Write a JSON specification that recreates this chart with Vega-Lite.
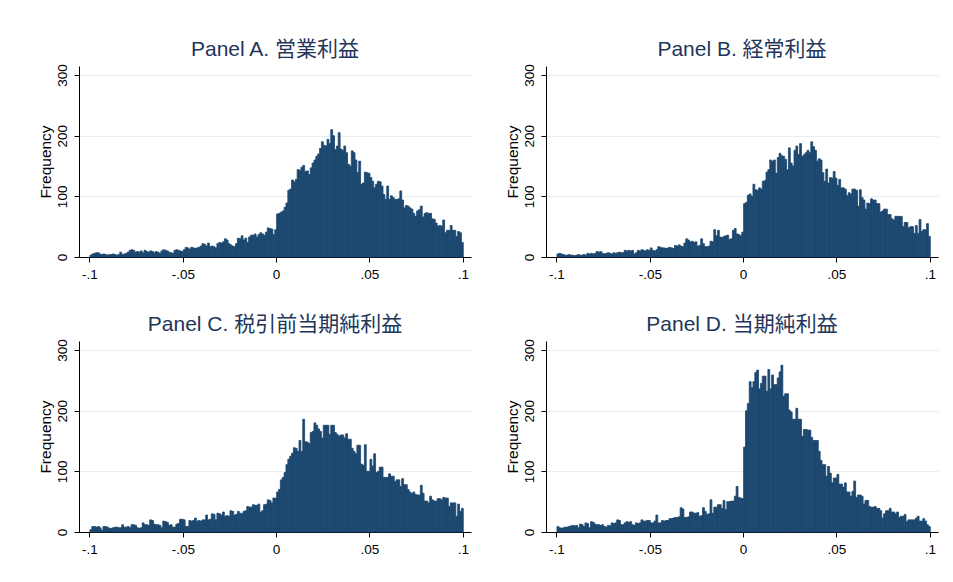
{
"$schema": "https://vega.github.io/schema/vega-lite/v6.json",
"background": "white",
"padding": {"left": 38, "top": 38, "right": 5, "bottom": 5},
"config": {
"view": {"stroke": null},
"font": "Liberation Sans",
"title": {"font": "Liberation Sans, Noto Sans CJK JP", "fontSize": 21, "fontWeight": "normal", "color": "#22355a", "anchor": "middle", "frame": "group", "offset": 4},
"axis": {"labelFont": "Liberation Sans", "titleFont": "Liberation Sans", "labelColor": "#000", "titleColor": "#000", "domainColor": "#000", "tickColor": "#000", "tickSize": 5, "labelFontSize": 13.5, "titleFontSize": 15.5, "titleFontWeight": "normal"},
"bar": {"binSpacing": 0}
},
"datasets": {
"A": [
{"x":-0.1,"n":3},{"x":-0.099,"n":5},{"x":-0.098,"n":6},{"x":-0.097,"n":7},{"x":-0.096,"n":7},{"x":-0.095,"n":5},{"x":-0.094,"n":4},{"x":-0.093,"n":5},{"x":-0.092,"n":4},{"x":-0.091,"n":3},
{"x":-0.09,"n":4},{"x":-0.089,"n":4},{"x":-0.088,"n":5},{"x":-0.087,"n":4},{"x":-0.086,"n":3},{"x":-0.085,"n":4},{"x":-0.084,"n":8},{"x":-0.083,"n":4},{"x":-0.082,"n":5},{"x":-0.081,"n":6},
{"x":-0.08,"n":8},{"x":-0.079,"n":11},{"x":-0.078,"n":12},{"x":-0.077,"n":11},{"x":-0.076,"n":8},{"x":-0.075,"n":9},{"x":-0.074,"n":8},{"x":-0.073,"n":10},{"x":-0.072,"n":7},{"x":-0.071,"n":11},
{"x":-0.07,"n":9},{"x":-0.069,"n":8},{"x":-0.068,"n":10},{"x":-0.067,"n":9},{"x":-0.066,"n":7},{"x":-0.065,"n":9},{"x":-0.064,"n":8},{"x":-0.063,"n":6},{"x":-0.062,"n":10},{"x":-0.061,"n":12},
{"x":-0.06,"n":11},{"x":-0.059,"n":10},{"x":-0.058,"n":8},{"x":-0.057,"n":7},{"x":-0.056,"n":6},{"x":-0.055,"n":11},{"x":-0.054,"n":12},{"x":-0.053,"n":11},{"x":-0.052,"n":10},{"x":-0.051,"n":9},
{"x":-0.05,"n":12},{"x":-0.049,"n":16},{"x":-0.048,"n":15},{"x":-0.047,"n":13},{"x":-0.046,"n":16},{"x":-0.045,"n":15},{"x":-0.044,"n":14},{"x":-0.043,"n":15},{"x":-0.042,"n":16},{"x":-0.041,"n":18},
{"x":-0.04,"n":22},{"x":-0.039,"n":21},{"x":-0.038,"n":18},{"x":-0.037,"n":23},{"x":-0.036,"n":17},{"x":-0.035,"n":18},{"x":-0.034,"n":17},{"x":-0.033,"n":15},{"x":-0.032,"n":22},{"x":-0.031,"n":24},
{"x":-0.03,"n":23},{"x":-0.029,"n":25},{"x":-0.028,"n":30},{"x":-0.027,"n":28},{"x":-0.026,"n":22},{"x":-0.025,"n":20},{"x":-0.024,"n":18},{"x":-0.023,"n":17},{"x":-0.022,"n":22},{"x":-0.021,"n":31},
{"x":-0.02,"n":30},{"x":-0.019,"n":35},{"x":-0.018,"n":28},{"x":-0.017,"n":31},{"x":-0.016,"n":24},{"x":-0.015,"n":33},{"x":-0.014,"n":36},{"x":-0.013,"n":36},{"x":-0.012,"n":38},{"x":-0.011,"n":33},
{"x":-0.01,"n":37},{"x":-0.009,"n":40},{"x":-0.008,"n":38},{"x":-0.007,"n":36},{"x":-0.006,"n":41},{"x":-0.005,"n":48},{"x":-0.004,"n":47},{"x":-0.003,"n":46},{"x":-0.002,"n":37},{"x":-0.001,"n":45},
{"x":0,"n":71},{"x":0.001,"n":72},{"x":0.002,"n":74},{"x":0.003,"n":76},{"x":0.004,"n":82},{"x":0.005,"n":89},{"x":0.006,"n":110},{"x":0.007,"n":112},{"x":0.008,"n":127},{"x":0.009,"n":124},
{"x":0.01,"n":128},{"x":0.011,"n":144},{"x":0.012,"n":143},{"x":0.013,"n":148},{"x":0.014,"n":151},{"x":0.015,"n":141},{"x":0.016,"n":142},{"x":0.017,"n":136},{"x":0.018,"n":147},{"x":0.019,"n":155},
{"x":0.02,"n":160},{"x":0.021,"n":166},{"x":0.022,"n":170},{"x":0.023,"n":179},{"x":0.024,"n":190},{"x":0.025,"n":184},{"x":0.026,"n":183},{"x":0.027,"n":194},{"x":0.028,"n":187},{"x":0.029,"n":210},
{"x":0.03,"n":200},{"x":0.031,"n":177},{"x":0.032,"n":183},{"x":0.033,"n":205},{"x":0.034,"n":178},{"x":0.035,"n":176},{"x":0.036,"n":183},{"x":0.037,"n":172},{"x":0.038,"n":153},{"x":0.039,"n":150},
{"x":0.04,"n":175},{"x":0.041,"n":172},{"x":0.042,"n":160},{"x":0.043,"n":139},{"x":0.044,"n":158},{"x":0.045,"n":120},{"x":0.046,"n":122},{"x":0.047,"n":140},{"x":0.048,"n":139},{"x":0.049,"n":138},
{"x":0.05,"n":131},{"x":0.051,"n":125},{"x":0.052,"n":114},{"x":0.053,"n":120},{"x":0.054,"n":125},{"x":0.055,"n":124},{"x":0.056,"n":117},{"x":0.057,"n":103},{"x":0.058,"n":95},{"x":0.059,"n":117},
{"x":0.06,"n":95},{"x":0.061,"n":101},{"x":0.062,"n":98},{"x":0.063,"n":95},{"x":0.064,"n":95},{"x":0.065,"n":96},{"x":0.066,"n":109},{"x":0.067,"n":94},{"x":0.068,"n":81},{"x":0.069,"n":85},
{"x":0.07,"n":84},{"x":0.071,"n":81},{"x":0.072,"n":79},{"x":0.073,"n":72},{"x":0.074,"n":67},{"x":0.075,"n":76},{"x":0.076,"n":78},{"x":0.077,"n":84},{"x":0.078,"n":66},{"x":0.079,"n":72},
{"x":0.08,"n":73},{"x":0.081,"n":72},{"x":0.082,"n":72},{"x":0.083,"n":63},{"x":0.084,"n":62},{"x":0.085,"n":56},{"x":0.086,"n":51},{"x":0.087,"n":52},{"x":0.088,"n":51},{"x":0.089,"n":61},
{"x":0.09,"n":40},{"x":0.091,"n":44},{"x":0.092,"n":44},{"x":0.093,"n":52},{"x":0.094,"n":44},{"x":0.095,"n":44},{"x":0.096,"n":34},{"x":0.097,"n":42},{"x":0.098,"n":40},{"x":0.099,"n":24}
],
"B": [
{"x":-0.1,"n":5},{"x":-0.099,"n":6},{"x":-0.098,"n":5},{"x":-0.097,"n":4},{"x":-0.096,"n":3},{"x":-0.095,"n":3},{"x":-0.094,"n":4},{"x":-0.093,"n":3},{"x":-0.092,"n":3},{"x":-0.091,"n":2},
{"x":-0.09,"n":3},{"x":-0.089,"n":4},{"x":-0.088,"n":3},{"x":-0.087,"n":3},{"x":-0.086,"n":4},{"x":-0.085,"n":3},{"x":-0.084,"n":6},{"x":-0.083,"n":5},{"x":-0.082,"n":6},{"x":-0.081,"n":5},
{"x":-0.08,"n":6},{"x":-0.079,"n":9},{"x":-0.078,"n":8},{"x":-0.077,"n":9},{"x":-0.076,"n":6},{"x":-0.075,"n":5},{"x":-0.074,"n":6},{"x":-0.073,"n":7},{"x":-0.072,"n":6},{"x":-0.071,"n":5},
{"x":-0.07,"n":7},{"x":-0.069,"n":6},{"x":-0.068,"n":7},{"x":-0.067,"n":8},{"x":-0.066,"n":7},{"x":-0.065,"n":7},{"x":-0.064,"n":11},{"x":-0.063,"n":10},{"x":-0.062,"n":11},{"x":-0.061,"n":10},
{"x":-0.06,"n":11},{"x":-0.059,"n":5},{"x":-0.058,"n":7},{"x":-0.057,"n":11},{"x":-0.056,"n":10},{"x":-0.055,"n":12},{"x":-0.054,"n":11},{"x":-0.053,"n":10},{"x":-0.052,"n":12},{"x":-0.051,"n":11},
{"x":-0.05,"n":15},{"x":-0.049,"n":11},{"x":-0.048,"n":10},{"x":-0.047,"n":12},{"x":-0.046,"n":17},{"x":-0.045,"n":16},{"x":-0.044,"n":15},{"x":-0.043,"n":15},{"x":-0.042,"n":14},{"x":-0.041,"n":15},
{"x":-0.04,"n":16},{"x":-0.039,"n":15},{"x":-0.038,"n":14},{"x":-0.037,"n":19},{"x":-0.036,"n":18},{"x":-0.035,"n":20},{"x":-0.034,"n":18},{"x":-0.033,"n":17},{"x":-0.032,"n":23},{"x":-0.031,"n":30},
{"x":-0.03,"n":28},{"x":-0.029,"n":25},{"x":-0.028,"n":26},{"x":-0.027,"n":24},{"x":-0.026,"n":25},{"x":-0.025,"n":18},{"x":-0.024,"n":19},{"x":-0.023,"n":30},{"x":-0.022,"n":22},{"x":-0.021,"n":17},
{"x":-0.02,"n":17},{"x":-0.019,"n":18},{"x":-0.018,"n":26},{"x":-0.017,"n":25},{"x":-0.016,"n":45},{"x":-0.015,"n":35},{"x":-0.014,"n":44},{"x":-0.013,"n":33},{"x":-0.012,"n":32},{"x":-0.011,"n":34},
{"x":-0.01,"n":35},{"x":-0.009,"n":36},{"x":-0.008,"n":29},{"x":-0.007,"n":30},{"x":-0.006,"n":44},{"x":-0.005,"n":47},{"x":-0.004,"n":38},{"x":-0.003,"n":37},{"x":-0.002,"n":35},{"x":-0.001,"n":41},
{"x":0,"n":88},{"x":0.001,"n":90},{"x":0.002,"n":102},{"x":0.003,"n":104},{"x":0.004,"n":100},{"x":0.005,"n":120},{"x":0.006,"n":111},{"x":0.007,"n":110},{"x":0.008,"n":114},{"x":0.009,"n":112},
{"x":0.01,"n":125},{"x":0.011,"n":126},{"x":0.012,"n":140},{"x":0.013,"n":144},{"x":0.014,"n":160},{"x":0.015,"n":158},{"x":0.016,"n":160},{"x":0.017,"n":138},{"x":0.018,"n":164},{"x":0.019,"n":171},
{"x":0.02,"n":167},{"x":0.021,"n":166},{"x":0.022,"n":161},{"x":0.023,"n":144},{"x":0.024,"n":180},{"x":0.025,"n":155},{"x":0.026,"n":150},{"x":0.027,"n":176},{"x":0.028,"n":183},{"x":0.029,"n":169},
{"x":0.03,"n":187},{"x":0.031,"n":166},{"x":0.032,"n":169},{"x":0.033,"n":172},{"x":0.034,"n":176},{"x":0.035,"n":172},{"x":0.036,"n":190},{"x":0.037,"n":182},{"x":0.038,"n":176},{"x":0.039,"n":158},
{"x":0.04,"n":162},{"x":0.041,"n":160},{"x":0.042,"n":139},{"x":0.043,"n":125},{"x":0.044,"n":145},{"x":0.045,"n":122},{"x":0.046,"n":131},{"x":0.047,"n":130},{"x":0.048,"n":141},{"x":0.049,"n":130},
{"x":0.05,"n":118},{"x":0.051,"n":128},{"x":0.052,"n":114},{"x":0.053,"n":114},{"x":0.054,"n":112},{"x":0.055,"n":101},{"x":0.056,"n":106},{"x":0.057,"n":104},{"x":0.058,"n":112},{"x":0.059,"n":112},
{"x":0.06,"n":110},{"x":0.061,"n":84},{"x":0.062,"n":111},{"x":0.063,"n":98},{"x":0.064,"n":94},{"x":0.065,"n":79},{"x":0.066,"n":89},{"x":0.067,"n":88},{"x":0.068,"n":96},{"x":0.069,"n":94},
{"x":0.07,"n":94},{"x":0.071,"n":88},{"x":0.072,"n":88},{"x":0.073,"n":74},{"x":0.074,"n":76},{"x":0.075,"n":79},{"x":0.076,"n":79},{"x":0.077,"n":70},{"x":0.078,"n":70},{"x":0.079,"n":63},
{"x":0.08,"n":61},{"x":0.081,"n":67},{"x":0.082,"n":67},{"x":0.083,"n":67},{"x":0.084,"n":67},{"x":0.085,"n":50},{"x":0.086,"n":57},{"x":0.087,"n":57},{"x":0.088,"n":48},{"x":0.089,"n":50},
{"x":0.09,"n":50},{"x":0.091,"n":39},{"x":0.092,"n":52},{"x":0.093,"n":39},{"x":0.094,"n":62},{"x":0.095,"n":42},{"x":0.096,"n":45},{"x":0.097,"n":45},{"x":0.098,"n":55},{"x":0.099,"n":34}
],
"C": [
{"x":-0.1,"n":4},{"x":-0.099,"n":9},{"x":-0.098,"n":9},{"x":-0.097,"n":8},{"x":-0.096,"n":9},{"x":-0.095,"n":7},{"x":-0.094,"n":3},{"x":-0.093,"n":9},{"x":-0.092,"n":9},{"x":-0.091,"n":8},
{"x":-0.09,"n":6},{"x":-0.089,"n":6},{"x":-0.088,"n":7},{"x":-0.087,"n":8},{"x":-0.086,"n":8},{"x":-0.085,"n":7},{"x":-0.084,"n":7},{"x":-0.083,"n":12},{"x":-0.082,"n":8},{"x":-0.081,"n":8},
{"x":-0.08,"n":9},{"x":-0.079,"n":7},{"x":-0.078,"n":12},{"x":-0.077,"n":12},{"x":-0.076,"n":11},{"x":-0.075,"n":7},{"x":-0.074,"n":6},{"x":-0.073,"n":7},{"x":-0.072,"n":15},{"x":-0.071,"n":12},
{"x":-0.07,"n":12},{"x":-0.069,"n":11},{"x":-0.068,"n":20},{"x":-0.067,"n":19},{"x":-0.066,"n":13},{"x":-0.065,"n":12},{"x":-0.064,"n":12},{"x":-0.063,"n":11},{"x":-0.062,"n":7},{"x":-0.061,"n":18},
{"x":-0.06,"n":17},{"x":-0.059,"n":16},{"x":-0.058,"n":11},{"x":-0.057,"n":12},{"x":-0.056,"n":8},{"x":-0.055,"n":8},{"x":-0.054,"n":13},{"x":-0.053,"n":14},{"x":-0.052,"n":21},{"x":-0.051,"n":21},
{"x":-0.05,"n":20},{"x":-0.049,"n":9},{"x":-0.048,"n":9},{"x":-0.047,"n":19},{"x":-0.046,"n":18},{"x":-0.045,"n":19},{"x":-0.044,"n":23},{"x":-0.043,"n":18},{"x":-0.042,"n":19},{"x":-0.041,"n":18},
{"x":-0.04,"n":20},{"x":-0.039,"n":20},{"x":-0.038,"n":28},{"x":-0.037,"n":20},{"x":-0.036,"n":21},{"x":-0.035,"n":30},{"x":-0.034,"n":29},{"x":-0.033,"n":20},{"x":-0.032,"n":31},{"x":-0.031,"n":30},
{"x":-0.03,"n":28},{"x":-0.029,"n":33},{"x":-0.028,"n":26},{"x":-0.027,"n":27},{"x":-0.026,"n":26},{"x":-0.025,"n":35},{"x":-0.024,"n":34},{"x":-0.023,"n":28},{"x":-0.022,"n":29},{"x":-0.021,"n":34},
{"x":-0.02,"n":31},{"x":-0.019,"n":30},{"x":-0.018,"n":34},{"x":-0.017,"n":35},{"x":-0.016,"n":42},{"x":-0.015,"n":41},{"x":-0.014,"n":41},{"x":-0.013,"n":45},{"x":-0.012,"n":44},{"x":-0.011,"n":44},
{"x":-0.01,"n":46},{"x":-0.009,"n":33},{"x":-0.008,"n":35},{"x":-0.007,"n":45},{"x":-0.006,"n":46},{"x":-0.005,"n":53},{"x":-0.004,"n":52},{"x":-0.003,"n":48},{"x":-0.002,"n":56},{"x":-0.001,"n":56},
{"x":0,"n":66},{"x":0.001,"n":70},{"x":0.002,"n":86},{"x":0.003,"n":90},{"x":0.004,"n":98},{"x":0.005,"n":111},{"x":0.006,"n":120},{"x":0.007,"n":125},{"x":0.008,"n":130},{"x":0.009,"n":139},
{"x":0.01,"n":138},{"x":0.011,"n":133},{"x":0.012,"n":151},{"x":0.013,"n":133},{"x":0.014,"n":186},{"x":0.015,"n":149},{"x":0.016,"n":148},{"x":0.017,"n":146},{"x":0.018,"n":164},{"x":0.019,"n":166},
{"x":0.02,"n":180},{"x":0.021,"n":176},{"x":0.022,"n":170},{"x":0.023,"n":166},{"x":0.024,"n":155},{"x":0.025,"n":176},{"x":0.026,"n":176},{"x":0.027,"n":176},{"x":0.028,"n":161},{"x":0.029,"n":176},
{"x":0.03,"n":176},{"x":0.031,"n":164},{"x":0.032,"n":161},{"x":0.033,"n":158},{"x":0.034,"n":160},{"x":0.035,"n":160},{"x":0.036,"n":155},{"x":0.037,"n":162},{"x":0.038,"n":153},{"x":0.039,"n":153},
{"x":0.04,"n":138},{"x":0.041,"n":133},{"x":0.042,"n":129},{"x":0.043,"n":143},{"x":0.044,"n":143},{"x":0.045,"n":112},{"x":0.046,"n":110},{"x":0.047,"n":144},{"x":0.048,"n":100},{"x":0.049,"n":100},
{"x":0.05,"n":120},{"x":0.051,"n":109},{"x":0.052,"n":129},{"x":0.053,"n":98},{"x":0.054,"n":100},{"x":0.055,"n":107},{"x":0.056,"n":107},{"x":0.057,"n":90},{"x":0.058,"n":90},{"x":0.059,"n":90},
{"x":0.06,"n":96},{"x":0.061,"n":92},{"x":0.062,"n":92},{"x":0.063,"n":83},{"x":0.064,"n":86},{"x":0.065,"n":86},{"x":0.066,"n":75},{"x":0.067,"n":88},{"x":0.068,"n":78},{"x":0.069,"n":78},
{"x":0.07,"n":70},{"x":0.071,"n":66},{"x":0.072,"n":63},{"x":0.073,"n":66},{"x":0.074,"n":62},{"x":0.075,"n":61},{"x":0.076,"n":61},{"x":0.077,"n":77},{"x":0.078,"n":64},{"x":0.079,"n":51},
{"x":0.08,"n":51},{"x":0.081,"n":48},{"x":0.082,"n":59},{"x":0.083,"n":53},{"x":0.084,"n":51},{"x":0.085,"n":51},{"x":0.086,"n":55},{"x":0.087,"n":55},{"x":0.088,"n":53},{"x":0.089,"n":57},
{"x":0.09,"n":56},{"x":0.091,"n":56},{"x":0.092,"n":42},{"x":0.093,"n":48},{"x":0.094,"n":48},{"x":0.095,"n":48},{"x":0.096,"n":26},{"x":0.097,"n":46},{"x":0.098,"n":34},{"x":0.099,"n":39}
],
"D": [
{"x":-0.1,"n":9},{"x":-0.099,"n":7},{"x":-0.098,"n":6},{"x":-0.097,"n":7},{"x":-0.096,"n":8},{"x":-0.095,"n":8},{"x":-0.094,"n":9},{"x":-0.093,"n":10},{"x":-0.092,"n":11},{"x":-0.091,"n":10},
{"x":-0.09,"n":11},{"x":-0.089,"n":7},{"x":-0.088,"n":13},{"x":-0.087,"n":12},{"x":-0.086,"n":9},{"x":-0.085,"n":15},{"x":-0.084,"n":14},{"x":-0.083,"n":7},{"x":-0.082,"n":17},{"x":-0.081,"n":16},
{"x":-0.08,"n":13},{"x":-0.079,"n":12},{"x":-0.078,"n":12},{"x":-0.077,"n":11},{"x":-0.076,"n":12},{"x":-0.075,"n":9},{"x":-0.074,"n":8},{"x":-0.073,"n":11},{"x":-0.072,"n":10},{"x":-0.071,"n":15},
{"x":-0.07,"n":14},{"x":-0.069,"n":15},{"x":-0.068,"n":20},{"x":-0.067,"n":19},{"x":-0.066,"n":12},{"x":-0.065,"n":12},{"x":-0.064,"n":15},{"x":-0.063,"n":17},{"x":-0.062,"n":16},{"x":-0.061,"n":17},
{"x":-0.06,"n":12},{"x":-0.059,"n":11},{"x":-0.058,"n":15},{"x":-0.057,"n":14},{"x":-0.056,"n":15},{"x":-0.055,"n":20},{"x":-0.054,"n":18},{"x":-0.053,"n":18},{"x":-0.052,"n":19},{"x":-0.051,"n":19},
{"x":-0.05,"n":15},{"x":-0.049,"n":15},{"x":-0.048,"n":18},{"x":-0.047,"n":28},{"x":-0.046,"n":15},{"x":-0.045,"n":15},{"x":-0.044,"n":19},{"x":-0.043,"n":18},{"x":-0.042,"n":19},{"x":-0.041,"n":19},
{"x":-0.04,"n":22},{"x":-0.039,"n":22},{"x":-0.038,"n":23},{"x":-0.037,"n":24},{"x":-0.036,"n":24},{"x":-0.035,"n":25},{"x":-0.034,"n":40},{"x":-0.033,"n":38},{"x":-0.032,"n":24},{"x":-0.031,"n":24},
{"x":-0.03,"n":25},{"x":-0.029,"n":33},{"x":-0.028,"n":33},{"x":-0.027,"n":31},{"x":-0.026,"n":31},{"x":-0.025,"n":32},{"x":-0.024,"n":26},{"x":-0.023,"n":27},{"x":-0.022,"n":40},{"x":-0.021,"n":34},
{"x":-0.02,"n":29},{"x":-0.019,"n":30},{"x":-0.018,"n":53},{"x":-0.017,"n":31},{"x":-0.016,"n":41},{"x":-0.015,"n":41},{"x":-0.014,"n":45},{"x":-0.013,"n":45},{"x":-0.012,"n":39},{"x":-0.011,"n":52},
{"x":-0.01,"n":37},{"x":-0.009,"n":50},{"x":-0.008,"n":50},{"x":-0.007,"n":51},{"x":-0.006,"n":51},{"x":-0.005,"n":59},{"x":-0.004,"n":75},{"x":-0.003,"n":57},{"x":-0.002,"n":56},{"x":-0.001,"n":55},
{"x":0,"n":140},{"x":0.001,"n":200},{"x":0.002,"n":212},{"x":0.003,"n":248},{"x":0.004,"n":238},{"x":0.005,"n":248},{"x":0.006,"n":263},{"x":0.007,"n":267},{"x":0.008,"n":236},{"x":0.009,"n":245},
{"x":0.01,"n":257},{"x":0.011,"n":257},{"x":0.012,"n":232},{"x":0.013,"n":268},{"x":0.014,"n":236},{"x":0.015,"n":259},{"x":0.016,"n":243},{"x":0.017,"n":243},{"x":0.018,"n":254},{"x":0.019,"n":264},
{"x":0.02,"n":275},{"x":0.021,"n":224},{"x":0.022,"n":228},{"x":0.023,"n":228},{"x":0.024,"n":201},{"x":0.025,"n":198},{"x":0.026,"n":186},{"x":0.027,"n":186},{"x":0.028,"n":204},{"x":0.029,"n":186},
{"x":0.03,"n":186},{"x":0.031,"n":158},{"x":0.032,"n":169},{"x":0.033,"n":169},{"x":0.034,"n":168},{"x":0.035,"n":168},{"x":0.036,"n":156},{"x":0.037,"n":151},{"x":0.038,"n":151},{"x":0.039,"n":151},
{"x":0.04,"n":133},{"x":0.041,"n":118},{"x":0.042,"n":111},{"x":0.043,"n":111},{"x":0.044,"n":92},{"x":0.045,"n":108},{"x":0.046,"n":97},{"x":0.047,"n":81},{"x":0.048,"n":89},{"x":0.049,"n":89},
{"x":0.05,"n":95},{"x":0.051,"n":79},{"x":0.052,"n":79},{"x":0.053,"n":74},{"x":0.054,"n":81},{"x":0.055,"n":66},{"x":0.056,"n":66},{"x":0.057,"n":59},{"x":0.058,"n":67},{"x":0.059,"n":84},
{"x":0.06,"n":57},{"x":0.061,"n":61},{"x":0.062,"n":61},{"x":0.063,"n":59},{"x":0.064,"n":46},{"x":0.065,"n":52},{"x":0.066,"n":52},{"x":0.067,"n":42},{"x":0.068,"n":41},{"x":0.069,"n":41},
{"x":0.07,"n":42},{"x":0.071,"n":39},{"x":0.072,"n":39},{"x":0.073,"n":35},{"x":0.074,"n":23},{"x":0.075,"n":30},{"x":0.076,"n":35},{"x":0.077,"n":35},{"x":0.078,"n":39},{"x":0.079,"n":33},
{"x":0.08,"n":33},{"x":0.081,"n":30},{"x":0.082,"n":33},{"x":0.083,"n":24},{"x":0.084,"n":26},{"x":0.085,"n":26},{"x":0.086,"n":29},{"x":0.087,"n":17},{"x":0.088,"n":20},{"x":0.089,"n":20},
{"x":0.09,"n":20},{"x":0.091,"n":20},{"x":0.092,"n":23},{"x":0.093,"n":26},{"x":0.094,"n":18},{"x":0.095,"n":18},{"x":0.096,"n":22},{"x":0.097,"n":18},{"x":0.098,"n":12},{"x":0.099,"n":9}
]
},
"spacing": 32,
"vconcat": [
{"hconcat": [
{"width": 392, "height": 191, "data": {"name": "A"}, "title": "Panel A. 営業利益",
 "mark": {"type": "bar", "color": "#1c476f", "binSpacing": 0, "stroke": "#1c476f", "strokeWidth": 0.8},
 "encoding": {
  "x": {"field": "x", "type": "quantitative", "bin": {"binned": true, "step": 0.001}, "title": null, "scale": {"domain": [-0.1056, 0.1044], "nice": false, "zero": false}, "axis": {"values": [-0.1, -0.05, 0, 0.05, 0.1], "labelExpr": "datum.value == 0 ? '0' : replace(toString(datum.value), '0.', '.')", "grid": false, "labelPadding": 5}},
  "y": {"field": "n", "type": "quantitative", "title": "Frequency", "scale": {"domain": [0, 315], "nice": false}, "axis": {"values": [0, 100, 200, 300], "grid": true, "gridColor": "#e6eef1", "labelAngle": -90, "labelPadding": 5, "titlePadding": 2}}
 }},
{"width": 392, "height": 191, "data": {"name": "B"}, "title": "Panel B. 経常利益",
 "mark": {"type": "bar", "color": "#1c476f", "binSpacing": 0, "stroke": "#1c476f", "strokeWidth": 0.8},
 "encoding": {
  "x": {"field": "x", "type": "quantitative", "bin": {"binned": true, "step": 0.001}, "title": null, "scale": {"domain": [-0.1056, 0.1044], "nice": false, "zero": false}, "axis": {"values": [-0.1, -0.05, 0, 0.05, 0.1], "labelExpr": "datum.value == 0 ? '0' : replace(toString(datum.value), '0.', '.')", "grid": false, "labelPadding": 5}},
  "y": {"field": "n", "type": "quantitative", "title": "Frequency", "scale": {"domain": [0, 315], "nice": false}, "axis": {"values": [0, 100, 200, 300], "grid": true, "gridColor": "#e6eef1", "labelAngle": -90, "labelPadding": 5, "titlePadding": 2}}
 }}
], "spacing": 34},
{"hconcat": [
{"width": 392, "height": 191, "data": {"name": "C"}, "title": "Panel C. 税引前当期純利益",
 "mark": {"type": "bar", "color": "#1c476f", "binSpacing": 0, "stroke": "#1c476f", "strokeWidth": 0.8},
 "encoding": {
  "x": {"field": "x", "type": "quantitative", "bin": {"binned": true, "step": 0.001}, "title": null, "scale": {"domain": [-0.1056, 0.1044], "nice": false, "zero": false}, "axis": {"values": [-0.1, -0.05, 0, 0.05, 0.1], "labelExpr": "datum.value == 0 ? '0' : replace(toString(datum.value), '0.', '.')", "grid": false, "labelPadding": 5}},
  "y": {"field": "n", "type": "quantitative", "title": "Frequency", "scale": {"domain": [0, 315], "nice": false}, "axis": {"values": [0, 100, 200, 300], "grid": true, "gridColor": "#e6eef1", "labelAngle": -90, "labelPadding": 5, "titlePadding": 2}}
 }},
{"width": 392, "height": 191, "data": {"name": "D"}, "title": "Panel D. 当期純利益",
 "mark": {"type": "bar", "color": "#1c476f", "binSpacing": 0, "stroke": "#1c476f", "strokeWidth": 0.8},
 "encoding": {
  "x": {"field": "x", "type": "quantitative", "bin": {"binned": true, "step": 0.001}, "title": null, "scale": {"domain": [-0.1056, 0.1044], "nice": false, "zero": false}, "axis": {"values": [-0.1, -0.05, 0, 0.05, 0.1], "labelExpr": "datum.value == 0 ? '0' : replace(toString(datum.value), '0.', '.')", "grid": false, "labelPadding": 5}},
  "y": {"field": "n", "type": "quantitative", "title": "Frequency", "scale": {"domain": [0, 315], "nice": false}, "axis": {"values": [0, 100, 200, 300], "grid": true, "gridColor": "#e6eef1", "labelAngle": -90, "labelPadding": 5, "titlePadding": 2}}
 }}
], "spacing": 34}
]
}
